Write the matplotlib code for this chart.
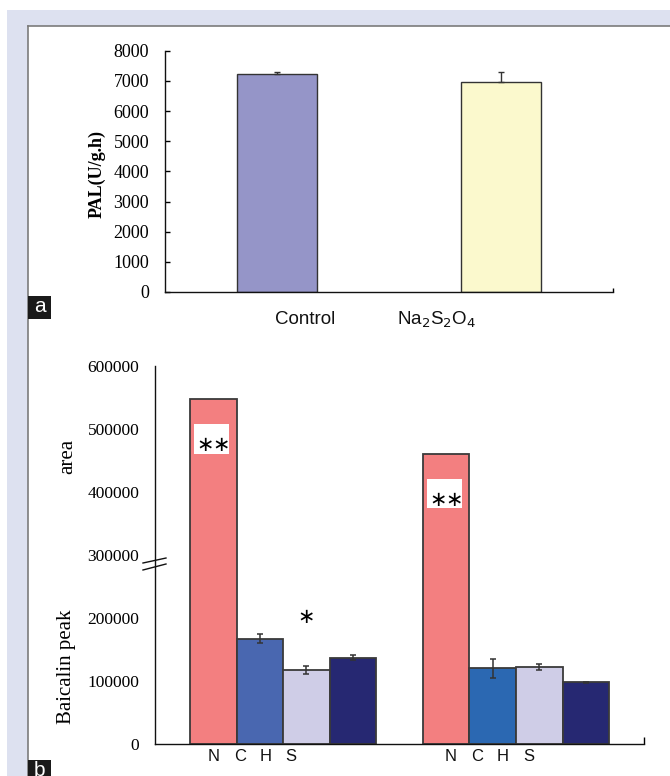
import matplotlib
matplotlib.use("Agg")
import matplotlib.pyplot as plt
from matplotlib.patches import Rectangle
from matplotlib.lines import Line2D
import matplotlib.transforms as mtransforms

# ---------------- data ----------------
pal_categories = ["Control", "Na$_2$S$_2$O$_4$"]
pal_values = [7220, 6970]
pal_err = [90, 310]
pal_colors = ["#9595c8", "#fbf9cd"]
pal_yticks = [0, 1000, 2000, 3000, 4000, 5000, 6000, 7000, 8000]

peak_series = ["N", "C", "H", "S"]
peak_group1 = [548000, 167000, 117500, 137000]
peak_group2 = [461000, 120000, 122000, 98000]
peak_err1 = [0, 7400, 6300, 3700]
peak_err2 = [0, 15300, 4200, 1000]
peak_colors1 = ["#f37f80", "#4967b0", "#cfcde7", "#262872"]
peak_colors2 = ["#f37f80", "#2b68b2", "#cfcde7", "#262872"]
peak_yticks = [0, 100000, 200000, 300000, 400000, 500000, 600000]

W, H = 670, 776
fig = plt.figure(figsize=(W / 100, H / 100), dpi=100)


def fx(px):
    return px / W


def fy(py):
    return 1 - py / H


# background frame
fig.patches.append(Rectangle((fx(7), 0), 1 - fx(7), fy(10), transform=fig.transFigure,
                             fc="#dde1f0", ec="none", zorder=-10))
fig.patches.append(Rectangle((fx(28), 0), 1 - fx(28), fy(26), transform=fig.transFigure,
                             fc="white", ec="none", zorder=-9))
fig.add_artist(Line2D([fx(27.5), 1], [fy(25.5), fy(25.5)], transform=fig.transFigure,
                      color="#7b7b7b", lw=1.2, zorder=-8))
fig.add_artist(Line2D([fx(27.5), fx(27.5)], [0, fy(25.5)], transform=fig.transFigure,
                      color="#7b7b7b", lw=1.2, zorder=-8))

# panel letters
for letter, ytop in (("a", 296), ("b", 760)):
    fig.patches.append(Rectangle((fx(28), fy(ytop + 23)), fx(51) - fx(28), fy(ytop) - fy(ytop + 23),
                                 transform=fig.transFigure, fc="#1a1a1a", ec="none", zorder=5))
    fig.text(fx(39.5), fy(ytop + 11), letter, color="white", ha="center", va="center",
             fontsize=15, family="Liberation Sans", zorder=6)

serif = "Liberation Serif"
sans = "Liberation Sans"

# ---------------- panel a ----------------
axa = fig.add_axes([fx(165), fy(292), (613 - 165) / W, (292 - 50.7) / H])
axa.set_facecolor("none")
xa = list(range(len(pal_values)))
axa.bar(xa, pal_values, width=0.357, color=pal_colors, edgecolor="#333333", linewidth=1.0,
        yerr=[[0] * len(pal_err), pal_err],
        error_kw=dict(ecolor="#333333", elinewidth=1.0, capsize=2.5, capthick=1.0), zorder=2)
axa.set_xlim(-0.5, 1.5)
axa.set_ylim(0, 8000)
axa.set_yticks(pal_yticks)
axa.set_yticklabels([str(v) for v in pal_yticks], fontsize=13, family=serif)
axa.tick_params(axis="y", direction="in", length=3.5, width=1.0, pad=11.5)
axa.set_xticks([1.5])
axa.set_xticklabels([""])
axa.tick_params(axis="x", direction="in", length=3, width=1.0)
for s in ("top", "right"):
    axa.spines[s].set_visible(False)
for s in ("left", "bottom"):
    axa.spines[s].set_linewidth(1.0)
    axa.spines[s].set_color("#111111")
tra = mtransforms.blended_transform_factory(axa.transData, axa.transAxes)
for pos, lab in zip([0.125, 0.714], pal_categories):
    axa.text(pos, -0.116, lab, transform=tra, ha="center", va="center", fontsize=13.5,
             family=sans, color="#111111")
axa.text(-0.152, 0.489, "PAL(U/g.h)", transform=axa.transAxes, rotation=90, ha="center",
         va="center", fontsize=13, fontweight="bold", family=serif)

# ---------------- panel b ----------------
axb = fig.add_axes([fx(155), fy(744), (644 - 155) / W, 378 / H])
axb.set_facecolor("none")
n = len(peak_series)
x1 = list(range(n))
x2 = [i + n + 1 for i in range(n)]
for xs, vals, errs, cols in ((x1, peak_group1, peak_err1, peak_colors1),
                             (x2, peak_group2, peak_err2, peak_colors2)):
    axb.bar(xs, vals, width=1.0, color=cols, edgecolor="#3a3a3a", linewidth=1.3, zorder=2)
    ex = [x for x, e in zip(xs, errs) if e > 0]
    ey = [v for v, e in zip(vals, errs) if e > 0]
    ee = [e for e in errs if e > 0]
    axb.errorbar(ex, ey, yerr=ee, fmt="none", ecolor="#333333", elinewidth=1.1,
                 capsize=2.5, capthick=1.1, zorder=3)
axb.set_xlim(-1.25, 9.25)
axb.set_ylim(0, 600000)
axb.set_yticks(peak_yticks)
axb.set_yticklabels([str(v) for v in peak_yticks], fontsize=12.5, family=serif)
axb.tick_params(axis="y", which="major", length=0, pad=11.3)
axb.set_yticks([100000, 200000], minor=True)
axb.tick_params(axis="y", which="minor", direction="in", length=3.5, width=1.0)
axb.set_xticks([9.25])
axb.set_xticklabels([""])
axb.tick_params(axis="x", direction="in", length=5, width=1.0)
for s in ("top", "right"):
    axb.spines[s].set_visible(False)
for s in ("left", "bottom"):
    axb.spines[s].set_linewidth(1.0)
    axb.spines[s].set_color("#111111")

# category letters
letter_pos = [0.0, 0.57, 1.13, 1.67, 5.1, 5.66, 6.22, 6.77]
trb = mtransforms.blended_transform_factory(axb.transData, axb.transAxes)
for pos, lab in zip(letter_pos, peak_series * 2):
    axb.text(pos, -0.034, lab, transform=trb, ha="center", va="center", fontsize=12,
             family=sans, color="#111111")

# significance marks
for xc, top in ((x1[0], peak_group1[0]), (x2[0], peak_group2[0])):
    axb.add_patch(Rectangle((xc - 0.41, top - 87000), 0.75, 47000, fc="white", ec="none", zorder=4))
    for dx in (-0.17, 0.17):
        axb.text(xc + dx, top - 74000, "\u2217", ha="center", va="center", fontsize=15,
                 family="DejaVu Sans", zorder=5)
axb.text(x1[2], 201000, "\u2217", ha="center", va="center", fontsize=15,
         family="DejaVu Sans", zorder=5)

# axis break mark
for y_left, y_right in ((287300, 295200), (276200, 285700)):
    axb.plot([-1.25 - 0.258, -1.25 + 0.236], [y_left, y_right], color="#111111", lw=1.0,
             clip_on=False, zorder=6)

axb.text(-0.178, 0.762, "area", transform=axb.transAxes, rotation=90, ha="center",
         va="center", fontsize=15, family=serif)
axb.text(-0.180, 0.204, "Baicalin peak", transform=axb.transAxes, rotation=90, ha="center",
         va="center", fontsize=15, family=serif)

fig.savefig("out.png", dpi=100)
